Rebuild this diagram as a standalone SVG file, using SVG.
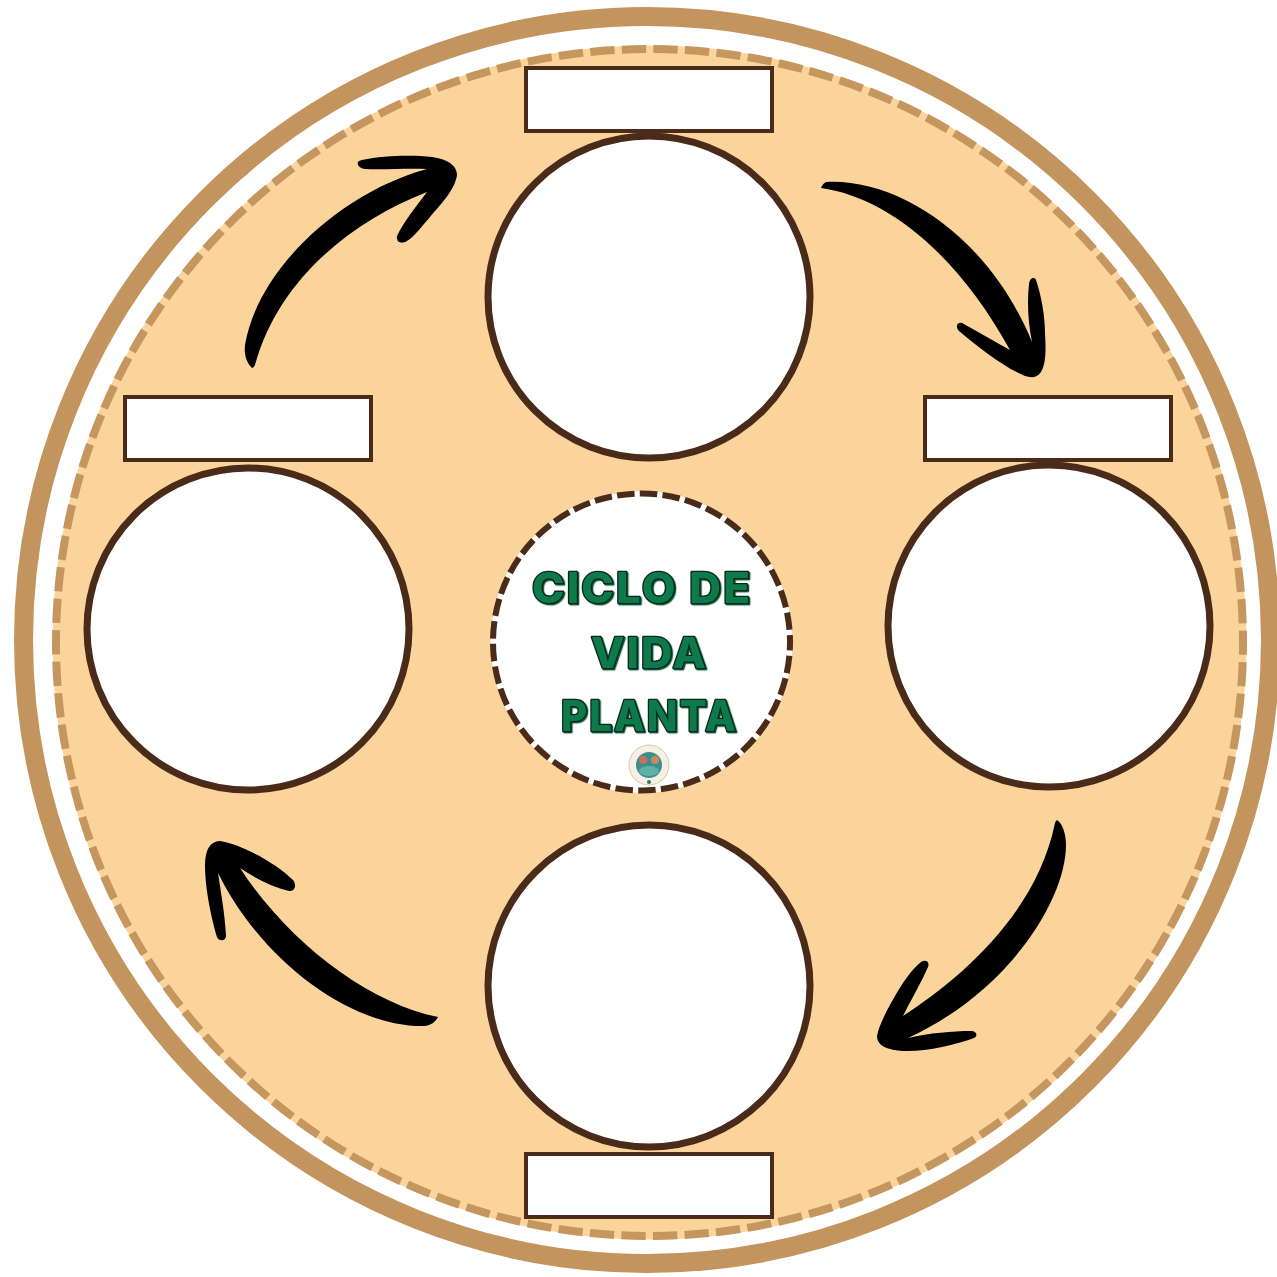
<svg xmlns="http://www.w3.org/2000/svg" width="1277" height="1277" viewBox="0 0 1277 1277">
<style>
.stage{fill:#fff;stroke:#4a2a18;stroke-width:7}
.label{fill:#fff;stroke:#4a2a18;stroke-width:4}
.arrow{fill:#000;stroke:none}
.title{font-family:"Inter","Liberation Sans",sans-serif;font-weight:800;font-size:42px;letter-spacing:2px;fill:#0b7a4b;stroke:#10261c;stroke-width:2.6px;paint-order:stroke;stroke-linejoin:round;filter:url(#sh)}
</style>
<defs>
<filter id="sh" x="-5%" y="-10%" width="110%" height="125%"><feDropShadow dx="1.2" dy="1.2" stdDeviation="0.4" flood-color="#0b5a38"/></filter>
</defs>
<rect width="1277" height="1277" fill="#fff"/>
<g id="plate">
<circle cx="647" cy="640" r="623.5" fill="#fff" stroke="#c4945f" stroke-width="19"/>
<circle cx="649.5" cy="642.5" r="597" fill="#fad49b"/>
<circle cx="649.5" cy="642.5" r="593.5" fill="none" stroke="#c6965f" stroke-width="8" stroke-dasharray="24.3 7.3" stroke-dashoffset="12"/>
</g>
<g id="stage-top">
<circle class="stage" cx="649" cy="297" r="161"/>
<rect class="label" x="526" y="68" width="246" height="63"/>
</g>
<g id="stage-right">
<circle class="stage" cx="1049" cy="626" r="161"/>
<rect class="label" x="925" y="397" width="246" height="63"/>
</g>
<g id="stage-bottom">
<circle class="stage" cx="649" cy="986" r="161"/>
<rect class="label" x="526" y="1154" width="246" height="63"/>
</g>
<g id="stage-left">
<circle class="stage" cx="248" cy="629" r="161"/>
<rect class="label" x="125" y="397" width="246" height="63"/>
</g>
<g id="connectors">
<path class="arrow" d="M821 188C822 185 824 183 826 182C895 178 987 233 1032 342C1028 322 1027 302 1029 284C1030 277 1035 277 1036 280C1041 295 1045 315 1045 333C1046 350 1046 364 1041 372C1037 378 1031 378 1025 376C1005 368 978 347 959 331C955 327 957 322 962 323C977 331 995 342 1010 350C952 245 880 196 821 188Z"/>
<path class="arrow" d="M1057 820C1062 823 1066 833 1066 845C1066 900 1008 992 908 1038C930 1033 952 1031 971 1031C977 1031 978 1036 974 1038C955 1045 925 1052 903 1051C888 1050 877 1046 877 1036C879 1025 887 1010 895 996C902 984 911 970 921 962C926 959 930 962 928 967C921 983 911 1000 903 1016C957 981 1036 916 1055 823C1055 822 1056 821 1057 820Z"/>
<path class="arrow" d="M438 1017C436 1021 432 1025 425 1026C352 1028 262 962 218 873C221 893 225 915 226 936C226 941 219 942 217 937C212 920 205 890 205 865C205 850 210 841 220 841C240 844 275 862 293 880C297 885 295 892 289 891C272 887 255 878 240 868C288 942 368 1003 438 1017Z"/>
<path class="arrow" d="M252 368C246 362 244 354 245 345C258 268 342 192 427 169C405 168 385 170 365 169C357 168 355 161 362 160C385 155 415 155 432 157C447 159 457 165 457 175C455 190 440 205 430 217C422 226 415 236 407 241C402 244 396 243 397 236C404 221 416 207 427 192C353 221 279 278 255 365C254 367 253 368 252 368Z"/>
</g>
<g id="center">
<circle cx="641.5" cy="642" r="151" fill="#fff"/>
<circle cx="641.5" cy="642" r="148.5" fill="none" stroke="#4a2a18" stroke-width="6" stroke-dasharray="17.5 5.3" stroke-dashoffset="9"/>
<text class="title" x="532" y="603" textLength="220" lengthAdjust="spacingAndGlyphs">CICLO DE</text>
<text class="title" x="591" y="668" textLength="117" lengthAdjust="spacingAndGlyphs">VIDA</text>
<text class="title" x="561" y="731" textLength="177" lengthAdjust="spacingAndGlyphs">PLANTA</text>
<g id="badge">
<circle cx="649" cy="765" r="20" fill="#f6efe4" stroke="#d9c9b0" stroke-width="1"/>
<circle cx="649" cy="765" r="13" fill="#3d8f8c"/>
<circle cx="643" cy="760" r="4" fill="#c9705f"/>
<circle cx="655" cy="760" r="4" fill="#c98a5f"/>
<ellipse cx="649" cy="771" rx="10" ry="5" fill="#5fb0a5"/>
<circle cx="649" cy="782" r="2" fill="#1f7f6a"/>
</g>
</g>
</svg>
